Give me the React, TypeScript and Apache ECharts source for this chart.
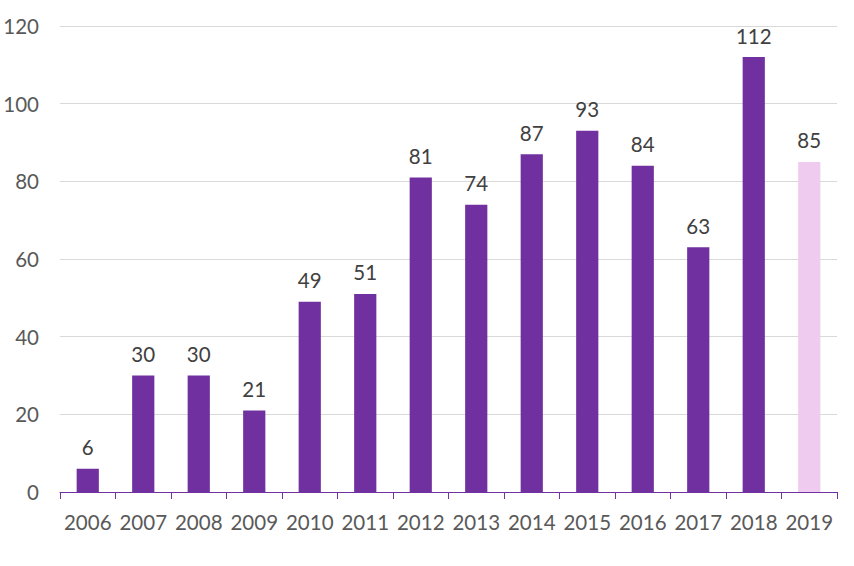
import React, { useEffect, useRef } from "react";
import * as echarts from "echarts";

const categories = ["2006", "2007", "2008", "2009", "2010", "2011", "2012", "2013", "2014", "2015", "2016", "2017", "2018", "2019"];
const values = [6, 30, 30, 21, 49, 51, 81, 74, 87, 93, 84, 63, 112, 85];
const highlightIndex = 13;

export default function App() {
  const ref = useRef<HTMLDivElement>(null);
  useEffect(() => {
    if (!ref.current) return;
    const chart = echarts.init(ref.current, undefined, { renderer: "svg" });
    const font = "Lato, 'Open Sans', sans-serif";
    chart.setOption({
      animation: false,
      grid: { left: 60, right: 17, top: 26, bottom: 74 },
      xAxis: {
        type: "category",
        data: categories,
        axisLine: { lineStyle: { color: "#7030A0", width: 1 } },
        axisTick: { show: true, alignWithLabel: false, length: 7, lineStyle: { color: "#7030A0" } },
        axisLabel: { color: "#595959", fontSize: 20.5, fontFamily: font, margin: 19, interval: 0 },
      },
      yAxis: {
        type: "value",
        min: 0,
        max: 120,
        interval: 20,
        axisLine: { show: false },
        axisTick: { show: false },
        splitLine: { lineStyle: { color: "#D9D9D9", width: 1 } },
        axisLabel: { color: "#595959", fontSize: 20.5, fontFamily: font, margin: 21 },
      },
      series: [
        {
          type: "bar",
          data: values.map((v, i) => ({
            value: v,
            itemStyle: { color: i === highlightIndex ? "#EFCCEF" : "#7030A0" },
          })),
          barCategoryGap: "60%",
          label: {
            show: true,
            position: "top",
            distance: 11,
            color: "#404040",
            fontSize: 20.5,
            fontFamily: font,
          },
        },
      ],
    });
    return () => chart.dispose();
  }, []);
  return <div ref={ref} style={{ width: 854, height: 566, position: "absolute", left: 0, top: 0 }} />;
}
